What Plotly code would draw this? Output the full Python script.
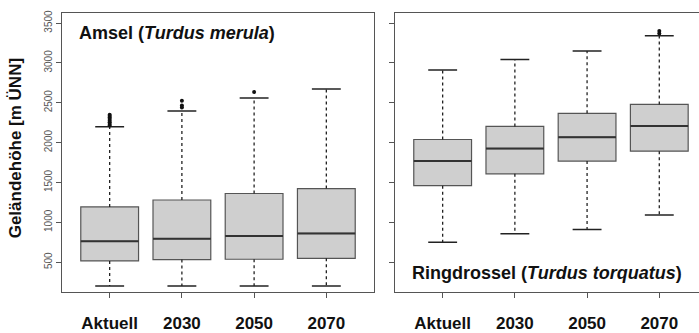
import plotly.graph_objects as go

categories = ["Aktuell", "2030", "2050", "2070"]
positions = [1, 2, 3, 4]

# Amsel (Turdus merula)
amsel_lower = [200, 200, 200, 200]
amsel_q1 = [516, 533, 537, 549]
amsel_median = [762, 795, 829, 861]
amsel_q3 = [1193, 1280, 1362, 1424]
amsel_upper = [2200, 2397, 2560, 2671]
amsel_outliers = [[2215, 2235, 2255, 2275, 2295, 2315, 2335, 2350], [2440, 2465, 2525], [2635], []]

# Ringdrossel (Turdus torquatus)
ring_lower = [750, 857, 910, 1091]
ring_q1 = [1460, 1608, 1768, 1892]
ring_median = [1768, 1925, 2068, 2208]
ring_q3 = [2039, 2203, 2368, 2479]
ring_upper = [2910, 3041, 3148, 3341]
ring_outliers = [[], [], [], [3370, 3400]]

yticks = [500, 1000, 1500, 2000, 2500, 3000, 3500]

W, H = 699, 333
BOX_FILL = "#cfcfcf"
BOX_LINE = "#555555"
FRAME = "#555555"

fig = go.Figure()


def add_panel(xa, ya, lower, q1, med, q3, upper, outliers):
    fig.add_trace(go.Box(
        x=positions, q1=q1, median=med, q3=q3, lowerfence=q1, upperfence=q3,
        width=0.8, whiskerwidth=0, fillcolor=BOX_FILL,
        line=dict(color=BOX_LINE, width=1.2), boxpoints=False,
        xaxis=xa, yaxis=ya, showlegend=False, hoverinfo="skip"))
    # medians
    mx, my = [], []
    for p, m in zip(positions, med):
        mx += [p - 0.4, p + 0.4, None]
        my += [m, m, None]
    fig.add_trace(go.Scatter(x=mx, y=my, mode="lines",
                             line=dict(color="#333333", width=2),
                             xaxis=xa, yaxis=ya, showlegend=False, hoverinfo="skip"))
    # whiskers
    wx, wy = [], []
    for p, lo, a, b, up in zip(positions, lower, q1, q3, upper):
        wx += [p, p, None, p, p, None]
        wy += [b, up, None, a, lo, None]
    fig.add_trace(go.Scatter(x=wx, y=wy, mode="lines",
                             line=dict(color="#222222", width=1.3, dash="3px,3px"),
                             xaxis=xa, yaxis=ya, showlegend=False, hoverinfo="skip"))
    # caps
    cx, cy = [], []
    for p, lo, up in zip(positions, lower, upper):
        cx += [p - 0.2, p + 0.2, None, p - 0.2, p + 0.2, None]
        cy += [up, up, None, lo, lo, None]
    fig.add_trace(go.Scatter(x=cx, y=cy, mode="lines",
                             line=dict(color="#222222", width=1.5),
                             xaxis=xa, yaxis=ya, showlegend=False, hoverinfo="skip"))
    # outliers
    ox, oy = [], []
    for p, outs in zip(positions, outliers):
        for v in outs:
            ox.append(p)
            oy.append(v)
    fig.add_trace(go.Scatter(x=ox, y=oy, mode="markers",
                             marker=dict(color="#111111", size=4, symbol="circle"),
                             xaxis=xa, yaxis=ya, showlegend=False, hoverinfo="skip"))


add_panel("x", "y", amsel_lower, amsel_q1, amsel_median, amsel_q3, amsel_upper, amsel_outliers)
add_panel("x2", "y2", ring_lower, ring_q1, ring_median, ring_q3, ring_upper, ring_outliers)

ydom = [(H - 294) / H, (H - 10) / H]
yrange = [130, 3628]
xfont = dict(family="Liberation Sans, Arial, sans-serif", size=17, color="#111111", weight="bold")

common_x = dict(tickmode="array", tickvals=positions, ticktext=categories,
                ticks="outside", ticklen=5, tickcolor=FRAME, tickfont=xfont,
                showline=True, linecolor=FRAME, linewidth=1, mirror=True,
                showgrid=False, zeroline=False, ticklabelstandoff=11, fixedrange=True)
common_y = dict(tickmode="array", tickvals=yticks, range=yrange,
                ticks="outside", ticklen=5, tickcolor=FRAME,
                showline=True, linecolor=FRAME, linewidth=1,
                showgrid=False, zeroline=False, fixedrange=True)

fig.update_layout(
    width=W, height=H, margin=dict(l=0, r=0, t=0, b=0),
    paper_bgcolor="white", plot_bgcolor="white",
    xaxis=dict(domain=[62 / W, 374 / W], range=[0.34, 4.66], **common_x),
    xaxis2=dict(domain=[395 / W, 1.0], range=[0.34, 4.55], anchor="y2", **common_x),
    yaxis=dict(domain=ydom, mirror=True, showticklabels=True, tickangle=-90,
               tickfont=dict(family="Liberation Sans, Arial, sans-serif", size=10, color="#555555"),
               **common_y),
    yaxis2=dict(domain=ydom, anchor="x2", mirror=False, showticklabels=False, **common_y),
    annotations=[
        dict(text="Amsel (<i>Turdus merula</i>)", xref="paper", yref="paper",
             x=77 / W, y=(H - 31) / H, xanchor="left", yanchor="middle", showarrow=False,
             font=dict(family="Liberation Sans, Arial, sans-serif", size=18, color="#111111", weight="bold")),
        dict(text="Ringdrossel (<i>Turdus torquatus</i>)", xref="paper", yref="paper",
             x=410 / W, y=(H - 275) / H, xanchor="left", yanchor="middle", showarrow=False,
             font=dict(family="Liberation Sans, Arial, sans-serif", size=18, color="#111111", weight="bold")),
        dict(text="Geländehöhe [m ÜNN]", xref="paper", yref="paper",
             x=15 / W, y=(H - 148) / H, xanchor="center", yanchor="middle", showarrow=False,
             textangle=-90,
             font=dict(family="Liberation Sans, Arial, sans-serif", size=17, color="#111111", weight="bold")),
    ],
)

fig.write_html("out.html", config={"displayModeBar": False},
               post_script="document.body.style.margin='0';document.body.style.padding='0';")
